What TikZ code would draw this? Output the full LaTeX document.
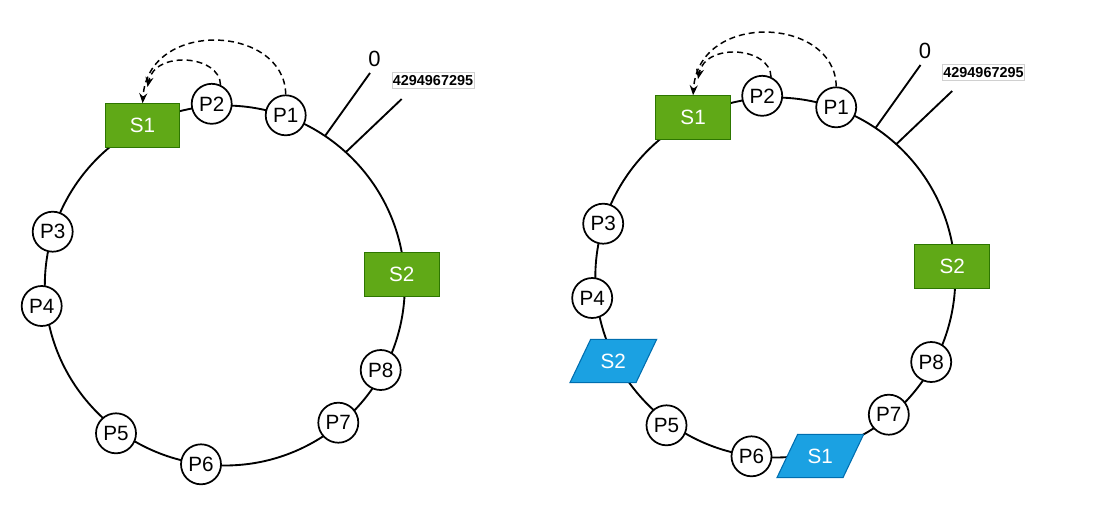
\documentclass[tikz,border=0pt]{standalone}
\usepackage{fontspec}
\setmainfont{Liberation Sans}
\usetikzlibrary{arrows.meta}
\definecolor{sgreen}{HTML}{60A917}
\definecolor{sgreenline}{HTML}{2D7600}
\definecolor{sblue}{HTML}{1BA1E2}
\definecolor{sblueline}{HTML}{006EAF}
\definecolor{lblgray}{HTML}{D0D0D0}
\tikzset{
 ring/.style={line width=1.4pt},
 pnode/.style={circle,draw,line width=1.3pt,fill=white,minimum size=30pt,inner sep=0pt,font=\fontsize{15.5}{18}\selectfont},
 gbox/.style={rectangle,draw=sgreenline,line width=0.8pt,fill=sgreen,minimum width=56pt,minimum height=33pt,inner sep=0pt,text=white,font=\fontsize{15.5}{18}\selectfont},
 bpara/.style={draw=sblueline,line width=0.8pt,fill=sblue},
 blabel/.style={text=white,font=\fontsize{15.5}{18}\selectfont,inner sep=0pt},
 tickline/.style={line width=1.4pt},
 zlabel/.style={font=\fontsize{16.5}{18}\selectfont,inner sep=0pt},
 maxlabel/.style={draw=lblgray,line width=0.5pt,fill=white,font=\bfseries\fontsize{10.8}{12}\selectfont,inner xsep=0.8pt,inner ysep=0pt,minimum height=12pt},
 dasharrow/.style={dash pattern=on 4.5pt off 3pt,line width=1.1pt,-{Stealth[length=7.5pt,width=6pt]}},
}
\newcommand{\hashring}[1]{%
 \draw[ring] (224.8,285.5) circle (180);
 \coordinate (#1a0) at (325,136); \coordinate (#1a1) at (370,73);
 \coordinate (#1b0) at (346,152); \coordinate (#1b1) at (401.7,99);
 \draw[tickline] (#1a0) -- (#1a1);
 \draw[tickline] (#1b0) -- (#1b1);
 \node[zlabel] (#1zero) at (374.5,58.5) {0};
 \node[maxlabel] (#1max) at (433,80.5) {4294967295};
 \node[gbox] (#1S1) at (142.6,125.8) {S1};
 \node[pnode] (#1P2) at (211.7,103.8) {P2};
 \node[pnode] (#1P1) at (285.7,115.3) {P1};
 \node[pnode] (#1P3) at (52.7,231.7) {P3};
 \node[pnode] (#1P4) at (41.7,306) {P4};
 \node[pnode] (#1P5) at (116,433.3) {P5};
 \node[pnode] (#1P6) at (201,464.3) {P6};
 \node[pnode] (#1P7) at (338.3,422.7) {P7};
 \node[pnode] (#1P8) at (380.7,370) {P8};
 \node[gbox] (#1S2) at (401.7,274.3) {S2};
 \coordinate (#1tip) at (147.5,87);
 \draw[dasharrow] (#1P1.north) .. controls (285,25) and (148,18) .. (#1S1.north);
 \draw[dasharrow] (#1P2.65) .. controls (220,55) and (155,50) .. (#1tip);
}
\begin{document}
\begin{tikzpicture}[x=0.75pt,y=-0.75pt]
\useasboundingbox (0,0) rectangle (1112,514);
\hashring{l}
\begin{scope}[shift={(550.5,-8)}]
 \hashring{r}
 \begin{scope}[shift={(62.8,369)}]
  \filldraw[bpara] (-22.65,-21.7) -- (43.35,-21.7) -- (22.65,21.7) -- (-43.35,21.7) -- cycle;
  \node[blabel] (rS2b) at (0,0) {S2};
 \end{scope}
 \begin{scope}[shift={(269.8,464)}]
  \filldraw[bpara] (-22.65,-21.7) -- (43.35,-21.7) -- (22.65,21.7) -- (-43.35,21.7) -- cycle;
  \node[blabel] (rS1b) at (0,0) {S1};
 \end{scope}
\end{scope}
\end{tikzpicture}
\end{document}
